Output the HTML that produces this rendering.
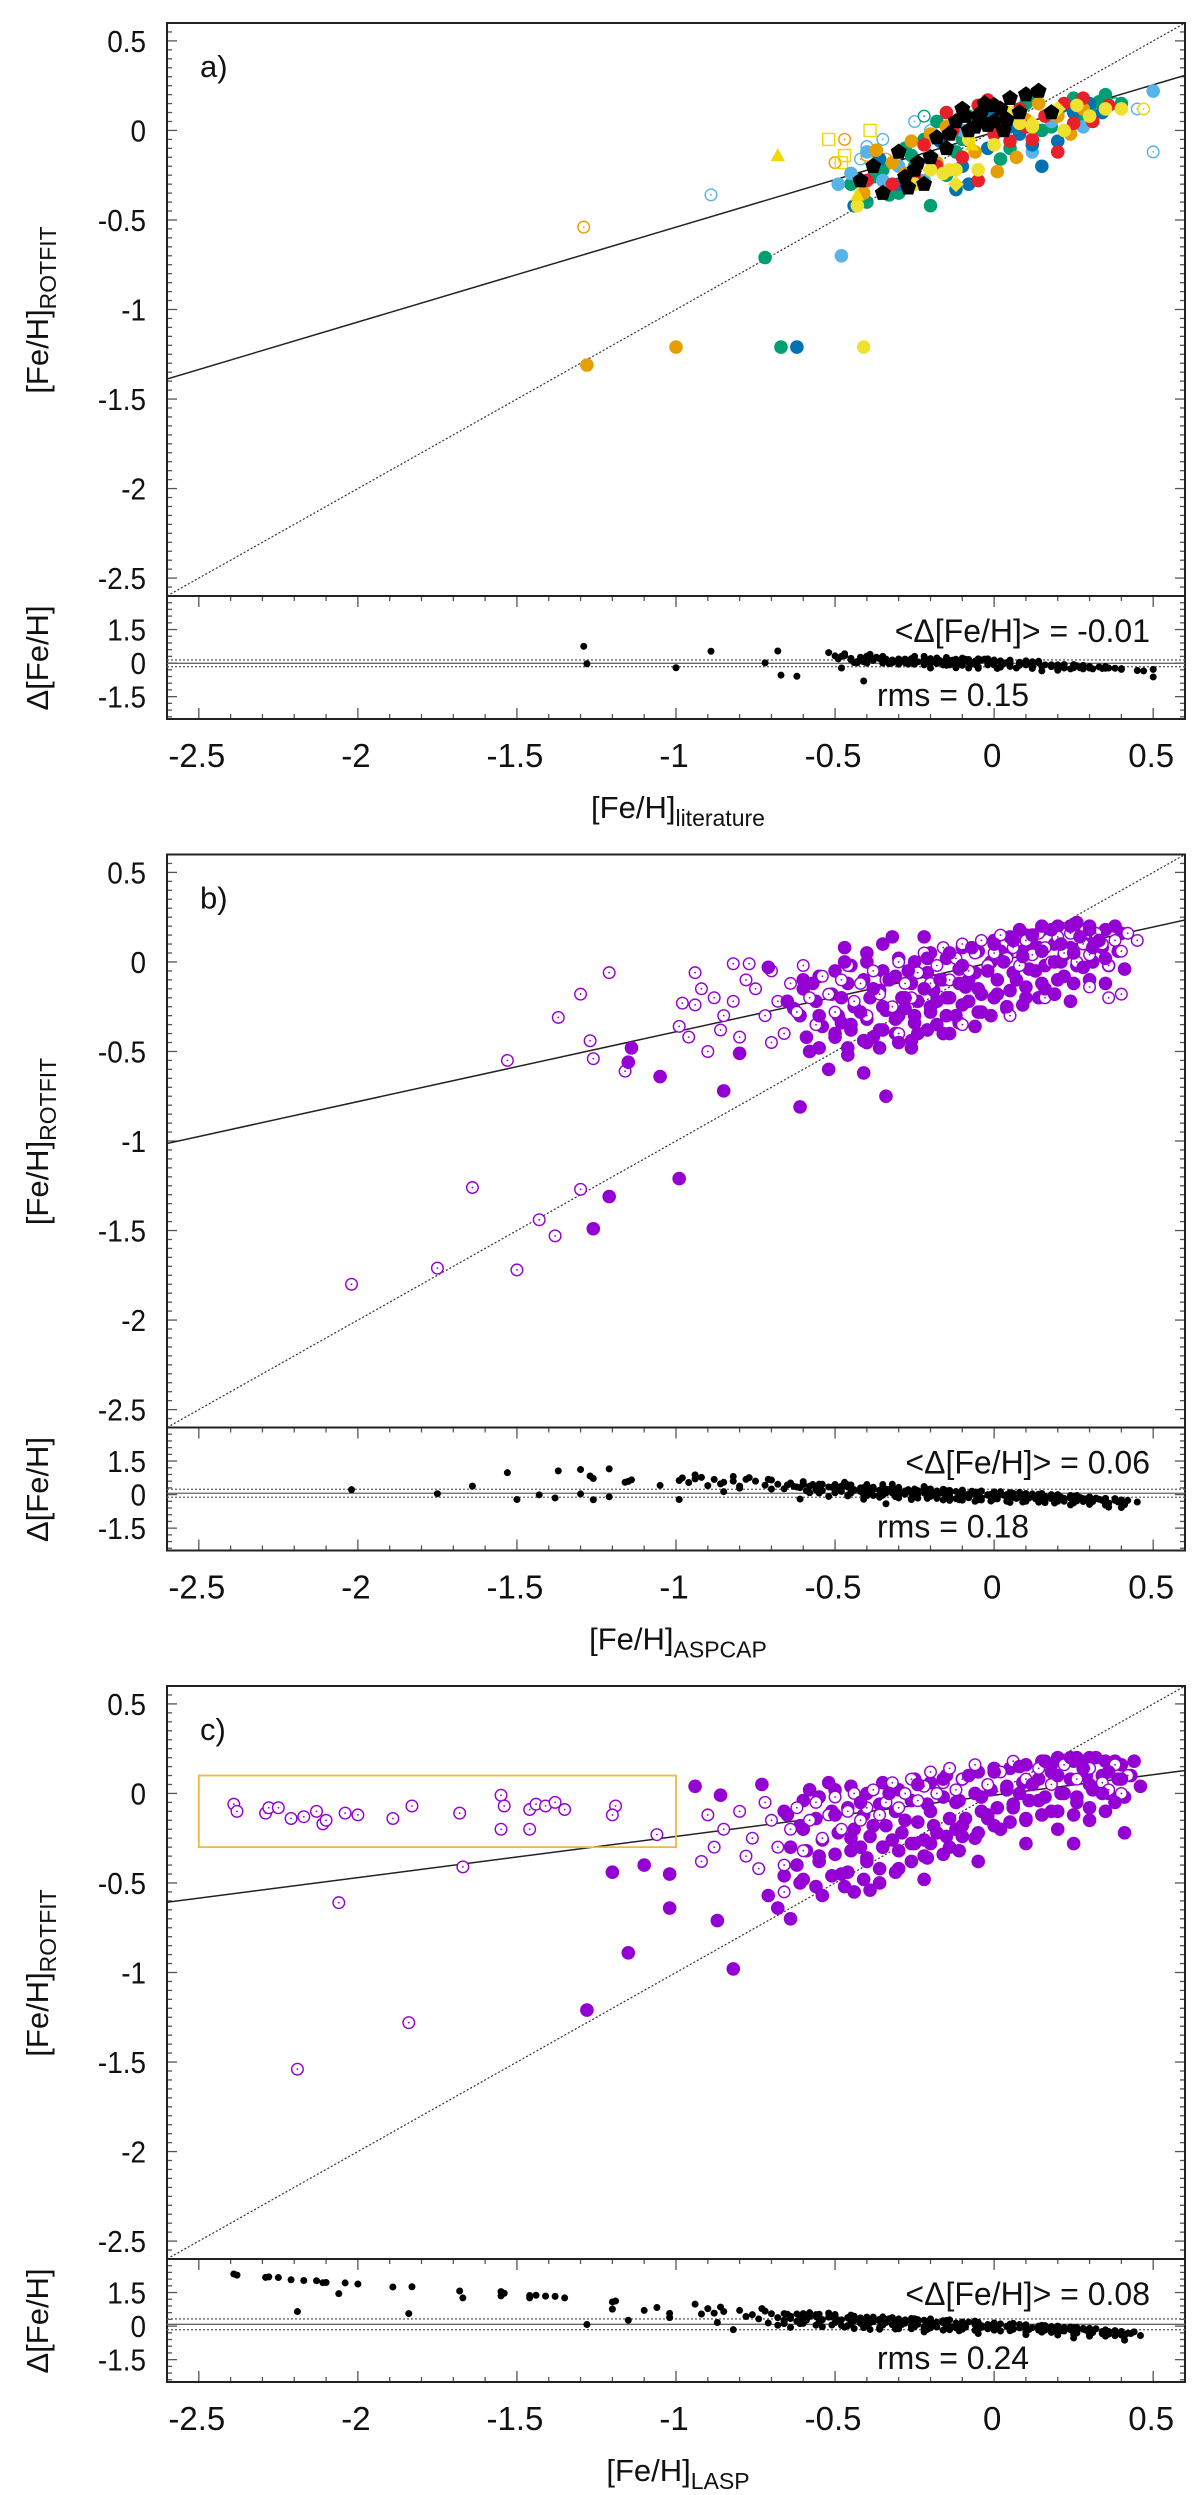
<!DOCTYPE html>
<html><head><meta charset="utf-8"><style>
html,body{margin:0;padding:0;background:#fff;}
svg{display:block;font-family:"Liberation Sans",Arial,sans-serif;}
</style></head><body>
<svg id="fig" width="1200" height="2495" viewBox="0 0 1200 2495" xmlns="http://www.w3.org/2000/svg"></svg>
<script>
// ---------- axis ticks ----------
const xTickVals=[-2.5,-2,-1.5,-1,-0.5,0,0.5];
const xTickLabels=["-2.5","-2","-1.5","-1","-0.5","0","0.5"];
const yTickVals=[0.5,0,-0.5,-1,-1.5,-2,-2.5];
const yTickLabels=["0.5","0","-0.5","-1","-1.5","-2","-2.5"];
const rTickVals=[1.5,0,-1.5];
const rTickLabels=["1.5","0","-1.5"];
// ---------- panel a data ----------
const aGreenX=[-0.72,-0.67,-0.40,-0.30,-0.25,-0.20,-0.15,-0.10,-0.05,0.0,0.05,0.10,0.15,0.20,0.25,0.30,0.35,0.40,-0.35,-0.28,-0.18,0.08,-0.22,-0.33,0.12,-0.45,-0.38,-0.12,0.02,0.18,0.27,0.33,-0.26,-0.08];
const aGreenY=[-0.71,-1.21,-0.40,-0.35,-0.20,-0.42,-0.25,-0.05,0.05,0.12,-0.10,0.15,0.00,0.10,0.18,0.12,0.20,0.15,-0.22,-0.10,0.05,0.00,-0.05,-0.36,0.18,-0.30,-0.26,-0.12,-0.16,0.02,0.06,0.16,-0.14,0.08];
const aRedX=[-0.22,-0.15,-0.10,-0.05,0.02,0.08,0.12,0.16,0.20,0.28,0.31,-0.05,-0.25,-0.40,0.00,0.22,-0.18,0.05,-0.32,-0.13,0.10,0.25,0.36,-0.02];
const aRedY=[-0.08,0.10,-0.15,0.14,0.05,0.12,-0.05,0.08,-0.12,0.18,0.05,-0.28,-0.25,-0.28,-0.02,0.15,-0.20,-0.06,-0.30,0.00,0.02,0.04,0.14,0.17];
const aBlueX=[-0.62,-0.44,-0.30,-0.20,-0.12,-0.02,0.05,0.12,0.20,0.25,0.30,-0.08,0.15,-0.10,-0.36,-0.17,0.00,0.22,0.34,0.08];
const aBlueY=[-1.21,-0.42,-0.30,-0.15,-0.33,-0.10,0.02,-0.08,-0.06,0.10,0.15,-0.30,-0.20,-0.20,-0.16,-0.06,0.08,0.14,0.10,-0.02];
const aSkyX=[-0.48,-0.49,-0.45,-0.40,-0.22,-0.10,0.05,0.18,0.50,-0.30,-0.35,0.12,0.28];
const aSkyY=[-0.70,-0.30,-0.24,-0.12,-0.28,0.00,0.08,0.05,0.22,-0.20,-0.28,-0.12,0.02];
const aOrangeX=[-1.28,-1.00,-0.41,-0.37,-0.32,-0.26,-0.18,0.01,0.07,0.20,0.28,-0.15,0.14,-0.20,-0.06,0.10,0.24,-0.28];
const aOrangeY=[-1.31,-1.21,-0.35,-0.11,-0.18,-0.06,-0.18,-0.23,-0.15,0.08,0.12,0.02,0.15,-0.02,-0.12,0.06,-0.02,-0.24];
const aYellowX=[-0.41,-0.43,-0.25,-0.12,-0.05,-0.08,0.00,0.05,0.12,0.18,0.22,0.30,0.35,-0.30,-0.16,-0.20,-0.14,0.26,0.40,0.08];
const aYellowY=[-1.21,-0.42,-0.30,-0.22,-0.22,-0.05,-0.08,0.10,0.02,0.10,0.00,0.08,0.12,-0.12,-0.24,-0.22,-0.22,0.14,0.12,0.04];
const aBlackX=[-0.35,-0.30,-0.27,-0.25,-0.22,-0.20,-0.18,-0.15,-0.12,-0.10,-0.08,-0.05,-0.03,0.00,0.02,0.05,0.08,0.10,0.14,0.18,-0.42,-0.38,0.03,-0.02,-0.04,-0.06,0.00,0.04,-0.09,-0.14,-0.24,-0.28];
const aBlackY=[-0.35,-0.12,-0.32,-0.22,-0.30,-0.15,-0.04,-0.10,0.05,0.12,0.00,0.08,0.15,0.05,0.12,0.18,0.10,0.20,0.22,0.10,-0.28,-0.20,0.00,0.03,0.10,0.02,0.14,0.06,0.08,-0.02,-0.18,-0.26];
const aOpenSkyX=[-0.89,-0.40,-0.35,-0.25,0.45,0.50,-0.42,-0.20];
const aOpenSkyY=[-0.36,-0.09,-0.05,0.05,0.12,-0.12,-0.16,0.00];
const aOpenOrangeX=[-1.29,-0.47,-0.50,-0.40,-0.34];
const aOpenOrangeY=[-0.54,-0.05,-0.18,-0.14,-0.16];
const aOpenGreenX=[-0.22,0.38,0.10];
const aOpenGreenY=[0.08,0.15,0.05];
const aOpenYellowX=[0.47];
const aOpenYellowY=[0.12];
const aTriX=[-0.68,-0.43,-0.07];
const aTriY=[-0.14,-0.36,-0.08];
const aSquareX=[-0.52,-0.39,-0.47,-0.48];
const aSquareY=[-0.05,0.00,-0.14,-0.18];
const aDiamondX=[0.12,0.20,-0.12];
const aDiamondY=[0.04,0.12,-0.30];
// ---------- panel b data ----------
const bFillX=[-1.14,-1.15,-1.05,-0.85,-0.61,-0.34,-0.41,-0.80,-0.99,-1.21,-1.26,-0.32,-0.22,-0.47,-0.71,
-0.55,-0.50,-0.48,-0.45,-0.42,-0.40,-0.38,-0.36,-0.35,-0.33,-0.31,-0.30,-0.28,-0.27,-0.25,-0.24,-0.22,-0.21,-0.20,-0.18,-0.17,-0.15,-0.14,-0.12,-0.11,-0.10,-0.08,-0.07,-0.05,-0.04,-0.02,0.00,0.01,0.03,0.04,0.06,0.07,0.09,0.10,0.12,0.13,0.15,0.16,0.18,0.19,0.21,0.22,0.24,0.25,0.27,0.28,0.30,0.31,0.33,0.35,0.24,0.19,-0.60,-0.65,-0.58,-0.46,-0.52,-0.26,-0.14,-0.47,-0.40,-0.35,0.26,0.15,0.08];
const bFillY=[-0.48,-0.56,-0.64,-0.72,-0.81,-0.75,-0.62,-0.51,-1.21,-1.31,-1.49,0.14,0.14,0.08,-0.03,
-0.30,-0.42,-0.20,-0.35,-0.28,-0.45,-0.15,-0.38,-0.25,-0.10,-0.32,-0.45,-0.20,-0.05,-0.30,-0.40,-0.15,0.02,-0.25,-0.35,-0.10,-0.20,0.05,-0.30,-0.12,-0.02,-0.22,0.08,-0.15,-0.28,-0.05,0.10,-0.18,0.00,-0.25,0.12,-0.10,0.03,-0.20,0.15,-0.05,0.06,-0.15,0.18,0.00,0.10,-0.08,0.20,0.05,0.14,-0.03,0.18,0.08,0.12,0.02,-0.22,-0.18,-0.10,-0.22,-0.50,-0.52,-0.60,-0.48,-0.40,0.00,0.05,0.10,0.22,0.20,0.18];
const bDenseX=[-0.60,-0.61,-0.59,-0.55,-0.56,-0.54,-0.55,-0.50,-0.51,-0.49,-0.50,-0.45,-0.46,-0.44,-0.45,-0.46,-0.40,-0.41,-0.39,-0.40,-0.41,-0.35,-0.36,-0.34,-0.35,-0.36,-0.30,-0.31,-0.29,-0.30,-0.31,-0.25,-0.26,-0.24,-0.25,-0.26,-0.20,-0.21,-0.19,-0.20,-0.21,-0.15,-0.16,-0.14,-0.15,-0.16,-0.10,-0.11,-0.09,-0.10,-0.11,-0.05,-0.06,-0.04,-0.05,-0.06,0.00,-0.01,0.01,0.00,-0.01,0.05,0.04,0.06,0.05,0.04,0.10,0.09,0.11,0.10,0.09,0.15,0.14,0.16,0.15,0.14,0.20,0.19,0.21,0.20,0.19,0.25,0.24,0.26,0.25,0.30,0.29,0.31,0.30,0.35,0.34,0.36,0.35,0.40,0.39,0.41,-0.63,-0.57,-0.48,-0.38,-0.28,-0.18,-0.08,0.02,0.12,0.22,0.32,0.38];
const bDenseY=[-0.15,-0.30,-0.42,-0.08,-0.22,-0.36,-0.48,-0.05,-0.18,-0.30,-0.40,-0.02,-0.12,-0.25,-0.38,-0.48,0.00,-0.10,-0.20,-0.32,-0.44,-0.05,-0.16,-0.27,-0.38,-0.48,0.02,-0.08,-0.20,-0.30,-0.40,0.00,-0.12,-0.22,-0.34,-0.44,0.05,-0.06,-0.16,-0.28,-0.38,0.02,-0.10,-0.20,-0.30,-0.40,0.08,-0.04,-0.14,-0.24,-0.34,0.06,-0.06,-0.18,-0.28,-0.36,0.12,0.00,-0.10,-0.20,-0.30,0.14,0.04,-0.06,-0.16,-0.26,0.15,0.06,-0.04,-0.14,-0.24,0.18,0.08,-0.02,-0.12,-0.20,0.20,0.10,0.00,-0.10,-0.18,0.18,0.08,-0.02,-0.12,0.20,0.10,0.00,-0.10,0.18,0.08,-0.02,-0.12,0.16,0.06,-0.04,-0.26,-0.12,-0.34,-0.42,-0.26,-0.22,-0.10,0.06,0.10,0.04,0.14,0.20];
const bOpenX=[-1.21,-1.30,-1.37,-1.27,-1.53,-1.26,-1.16,-0.94,-0.82,-0.77,-0.98,-0.94,-0.99,-0.96,-0.88,-0.82,-1.64,-1.30,-1.43,-1.38,-1.75,-1.50,-2.02,
-0.75,-0.72,-0.70,-0.68,-0.66,-0.64,-0.62,-0.60,-0.58,-0.56,-0.54,-0.52,-0.50,-0.48,-0.46,-0.44,-0.42,-0.40,-0.38,-0.36,-0.34,-0.32,-0.30,-0.28,-0.26,-0.24,-0.22,-0.20,-0.18,-0.16,-0.14,-0.12,-0.10,-0.08,-0.06,-0.04,-0.02,0.00,0.02,0.04,0.06,0.08,0.10,0.12,0.14,0.16,0.18,0.20,0.22,0.24,0.26,0.28,0.30,0.32,0.34,0.36,0.38,0.40,0.42,0.45,0.36,0.40,0.30,0.16,0.05,-0.10,-0.30,-0.85,-0.92,-0.80,-0.78,-0.70,-0.90,-0.86];
const bOpenY=[-0.06,-0.18,-0.31,-0.44,-0.55,-0.54,-0.61,-0.06,-0.01,-0.01,-0.23,-0.24,-0.36,-0.42,-0.20,-0.22,-1.26,-1.27,-1.44,-1.53,-1.71,-1.72,-1.80,
-0.15,-0.30,-0.05,-0.22,-0.40,-0.12,-0.28,-0.02,-0.20,-0.35,-0.08,-0.18,-0.28,-0.10,-0.02,-0.22,-0.12,-0.30,-0.05,-0.18,-0.10,-0.25,0.00,-0.12,-0.20,-0.06,0.05,-0.12,-0.02,0.08,-0.10,0.02,0.10,-0.05,0.05,0.12,-0.02,0.05,0.15,0.02,0.08,-0.02,0.12,0.04,0.16,0.08,0.00,0.14,0.05,0.16,0.00,0.10,0.04,0.16,0.10,-0.02,0.12,0.06,0.16,0.12,-0.20,-0.18,-0.14,-0.20,-0.30,-0.35,-0.40,-0.30,-0.15,-0.42,-0.10,-0.45,-0.50,-0.38];
// ---------- panel c data ----------
const cFillX=[-1.28,-1.15,-1.02,-0.87,-0.82,-1.20,-1.10,-1.02,-0.94,-0.86,-0.73,-0.68,-0.64,-0.71,-0.61,-0.54,-0.47,-0.39,-0.22,0.25,0.41,0.46,0.44,
-0.60,-0.55,-0.50,-0.48,-0.45,-0.42,-0.40,-0.38,-0.35,-0.33,-0.30,-0.28,-0.26,-0.24,-0.22,-0.20,-0.18,-0.16,-0.14,-0.12,-0.10,-0.08,-0.06,-0.04,-0.02,0.00,0.02,0.04,0.06,0.08,0.10,0.12,0.14,0.16,0.18,0.20,0.22,0.24,0.26,0.28,0.30,0.32,0.34,0.36,0.38,0.40,0.30,0.20,0.10,-0.05,-0.58,-0.52,-0.66,-0.62,-0.44,-0.36,0.26,0.18];
const cFillY=[-1.21,-0.89,-0.64,-0.71,-0.98,-0.44,-0.40,-0.45,0.04,-0.01,0.05,-0.64,-0.70,-0.57,-0.50,-0.57,-0.52,-0.54,-0.48,-0.28,-0.22,0.04,0.18,
-0.20,-0.35,-0.12,-0.45,-0.25,-0.05,-0.38,-0.18,-0.30,0.00,-0.42,-0.15,-0.28,0.05,-0.35,-0.10,-0.22,0.08,-0.30,-0.05,-0.18,0.10,-0.25,-0.02,-0.12,0.12,-0.20,0.02,-0.08,0.15,-0.15,0.05,-0.04,0.18,-0.10,0.10,0.00,0.20,-0.05,0.14,0.05,0.20,0.00,0.12,-0.05,0.08,-0.15,-0.20,-0.28,-0.38,0.02,0.06,-0.10,-0.40,-0.55,-0.50,0.20,0.16];
const cDenseX=[-0.65,-0.64,-0.66,-0.60,-0.61,-0.59,-0.60,-0.55,-0.56,-0.54,-0.55,-0.56,-0.50,-0.51,-0.49,-0.50,-0.51,-0.45,-0.46,-0.44,-0.45,-0.46,-0.40,-0.41,-0.39,-0.40,-0.41,-0.35,-0.36,-0.34,-0.35,-0.36,-0.30,-0.31,-0.29,-0.30,-0.31,-0.25,-0.26,-0.24,-0.25,-0.26,-0.20,-0.21,-0.19,-0.20,-0.21,-0.15,-0.16,-0.14,-0.15,-0.16,-0.10,-0.11,-0.09,-0.10,-0.11,-0.05,-0.06,-0.04,-0.05,0.00,-0.01,0.01,0.00,0.05,0.04,0.06,0.05,0.10,0.09,0.11,0.10,0.15,0.14,0.16,0.15,0.20,0.19,0.21,0.20,0.25,0.24,0.26,0.25,0.30,0.29,0.31,0.30,0.35,0.34,0.36,0.35,0.40,0.39,0.41,-0.42,-0.32,-0.22,-0.12,-0.02,0.08,0.18,0.28,0.38,0.43];
const cDenseY=[-0.12,-0.30,-0.46,-0.04,-0.18,-0.32,-0.48,-0.02,-0.14,-0.26,-0.38,-0.52,0.02,-0.10,-0.22,-0.34,-0.46,0.04,-0.08,-0.20,-0.32,-0.44,0.00,-0.12,-0.24,-0.36,-0.48,0.06,-0.06,-0.18,-0.30,-0.42,0.02,-0.10,-0.22,-0.32,-0.44,0.08,-0.04,-0.16,-0.28,-0.38,0.06,-0.06,-0.18,-0.28,-0.36,0.10,-0.02,-0.14,-0.24,-0.34,0.08,-0.04,-0.14,-0.24,-0.32,0.12,0.00,-0.10,-0.22,0.14,0.02,-0.08,-0.18,0.14,0.04,-0.06,-0.16,0.16,0.06,-0.04,-0.14,0.18,0.08,-0.02,-0.12,0.20,0.10,0.00,-0.10,0.18,0.08,-0.02,-0.12,0.20,0.10,0.02,-0.08,0.18,0.10,0.00,-0.10,0.16,0.08,-0.02,-0.30,-0.26,-0.26,-0.20,-0.14,0.00,0.12,0.18,0.18,0.10];
const cOpenX=[-2.39,-2.38,-2.29,-2.28,-2.25,-2.21,-2.17,-2.13,-2.11,-2.10,-2.04,-2.00,-1.89,-1.83,-1.68,-1.55,-1.54,-1.55,-1.46,-1.46,-1.44,-1.41,-1.38,-1.35,-1.19,-1.20,-1.06,-1.67,-2.06,-1.84,-2.19,
-0.85,-0.80,-0.76,-0.72,-0.70,-0.68,-0.66,-0.64,-0.62,-0.60,-0.58,-0.56,-0.54,-0.52,-0.50,-0.48,-0.46,-0.44,-0.42,-0.40,-0.38,-0.36,-0.34,-0.32,-0.30,-0.28,-0.26,-0.24,-0.22,-0.20,-0.18,-0.16,-0.14,-0.12,-0.10,-0.06,-0.02,0.02,0.06,0.10,0.14,0.18,0.22,0.26,0.30,0.34,0.38,0.42,0.36,0.40,-0.90,-0.88,-0.92,-0.78,-0.74,-0.66];
const cOpenY=[-0.06,-0.10,-0.11,-0.08,-0.08,-0.14,-0.13,-0.10,-0.17,-0.15,-0.11,-0.12,-0.14,-0.07,-0.11,-0.01,-0.07,-0.20,-0.09,-0.20,-0.06,-0.07,-0.05,-0.09,-0.07,-0.12,-0.23,-0.41,-0.61,-1.28,-1.54,
-0.20,-0.10,-0.25,-0.05,-0.15,-0.30,-0.40,-0.20,-0.08,-0.32,-0.15,-0.05,-0.25,-0.12,-0.02,-0.20,-0.10,0.00,-0.15,-0.08,0.02,-0.12,-0.05,0.06,-0.08,0.00,0.08,-0.04,0.04,0.12,0.00,0.06,0.14,0.02,0.08,0.16,0.05,0.12,0.18,0.08,0.14,0.05,0.16,0.08,0.14,0.06,0.16,0.10,0.02,0.00,-0.12,-0.30,-0.38,-0.35,-0.42,-0.55];
// ---------- fits & stats ----------
const fitSlope=[0.53,0.39,0.23];
const fitIntercept=[-0.01,0.00,-0.01];
const meanDiff=[-0.01,0.06,0.08];
const rmsDiff=[0.15,0.18,0.24];
const panelLetters=["a)","b)","c)"];
const xAxisSubs=["literature","ASPCAP","LASP"];
const meanLabels=["-0.01","0.06","0.08"];
const rmsLabels=["0.15","0.18","0.24"];
const boxC={x0:-2.5,x1:-1.0,y0:0.1,y1:-0.3};

const NS="http://www.w3.org/2000/svg";
const svg=document.getElementById('fig');
const L=167,R=1185,TOP=23,MB=596,RB=719;
const XMIN=-2.6,XMAX=0.6,YMIN=-2.6,YMAX=0.6,RMIN=-2.5,RMAX=3;
const OFFS=[0,831.5,1663];
function sx(v){return L+(v-XMIN)/(XMAX-XMIN)*(R-L);}
function sy(v,o){return o+TOP+(YMAX-v)/(YMAX-YMIN)*(MB-TOP);}
function sr(v,o){return o+MB+(RMAX-v)/(RMAX-RMIN)*(RB-MB);}
function mk(tag,attrs,parent){const e=document.createElementNS(NS,tag);for(const k in attrs)e.setAttribute(k,attrs[k]);(parent||svg).appendChild(e);return e;}

const defs=mk('defs',{});
OFFS.forEach((o,i)=>{
  const cp=mk('clipPath',{id:'clipM'+i},defs);mk('rect',{x:L,y:o+TOP,width:R-L,height:MB-TOP},cp);
  const cr=mk('clipPath',{id:'clipR'+i},defs);mk('rect',{x:L,y:o+MB,width:R-L,height:RB-MB},cr);
});

function circle(g,x,y,color,open,r){
  r=r||6.8;
  if(open){
    const c=mk('circle',{cx:x,cy:y,r:r-1,fill:'#fff',stroke:color,'stroke-width':1.4},g);
    
    
    mk('circle',{cx:x,cy:y,r:0.9,fill:color},g);
  }else{
    const c=mk('circle',{cx:x,cy:y,r:r,fill:color},g);
    
    
  }
}
function poly(g,pts,color,fill,name){
  const p=mk('polygon',{points:pts.map(q=>q.join(',')).join(' '),fill:fill?color:'none',stroke:color,'stroke-width':1.4},g);
  
  
}
function series(i,xs,ys,color,kind){
  const o=OFFS[i];
  const g=mk('g',{'clip-path':'url(#clipM'+i+')'});
  
  
  xs.forEach((xv,k)=>{
    const x=sx(xv),y=sy(ys[k],o);
    if(kind==='fill')circle(g,x,y,color,false);
    else if(kind==='open')circle(g,x,y,color,true);
    else if(kind==='tri')poly(g,[[x,y-6],[x-6,y+5],[x+6,y+5]],color,true,'triangle-point');
    else if(kind==='square')poly(g,[[x-6,y-6],[x+6,y-6],[x+6,y+6],[x-6,y+6]],color,false,'square-point');
    else if(kind==='diamond')poly(g,[[x,y-7],[x+7,y],[x,y+7],[x-7,y]],color,true,'diamond-point');
    else if(kind==='pent'){const pts=[];for(let a=0;a<5;a++){const t=-Math.PI/2+a*2*Math.PI/5;pts.push([x+7.5*Math.cos(t),y+7.5*Math.sin(t)]);}poly(g,pts,color,true,'pentagon-point');}
  });
}

function frame(i){
  const o=OFFS[i];
  const g=mk('g',{});
  
  
  for(let k=0;k<=64;k++){const v=+(YMIN+k*0.05).toFixed(2);const y=sy(v,o);const maj=Math.abs(v*2-Math.round(v*2))<1e-6;const len=maj?10:5;
    mk('line',{x1:L,y1:y,x2:L+len,y2:y,stroke:'#555','stroke-width':1.3},g);mk('line',{x1:R,y1:y,x2:R-len,y2:y,stroke:'#555','stroke-width':1.3},g);}
  for(let k=-8;k<=10;k++){const v=k*0.3;if(v<RMIN||v>RMAX)continue;const y=sr(v,o);const maj=k%5===0;const len=maj?10:5;
    mk('line',{x1:L,y1:y,x2:L+len,y2:y,stroke:'#555','stroke-width':1.3},g);mk('line',{x1:R,y1:y,x2:R-len,y2:y,stroke:'#555','stroke-width':1.3},g);}
  for(let k=0;k<=32;k++){const v=+(XMIN+k*0.1).toFixed(2);const x=sx(v);const maj=Math.abs(v*2-Math.round(v*2))<1e-6;const len=maj?11:5;
    mk('line',{x1:x,y1:o+MB,x2:x,y2:o+MB+len,stroke:'#555','stroke-width':1.3},g);mk('line',{x1:x,y1:o+RB,x2:x,y2:o+RB-len,stroke:'#555','stroke-width':1.3},g);}
  const fm=mk('rect',{x:L,y:o+TOP,width:R-L,height:MB-TOP,fill:'none',stroke:'#222','stroke-width':2},g);
  
  const fr=mk('rect',{x:L,y:o+MB,width:R-L,height:RB-MB,fill:'none',stroke:'#222','stroke-width':2},g);
  
  yTickVals.forEach((v,k)=>{const t=mk('text',{x:146,y:sy(v,o)+11,'font-size':31,'text-anchor':'end',fill:'#111',transform:'translate(146,0) scale(0.9,1) translate(-146,0)'},g);t.textContent=yTickLabels[k];
    });
  rTickVals.forEach((v,k)=>{const t=mk('text',{x:146,y:sr(v,o)+11,'font-size':31,'text-anchor':'end',fill:'#111',transform:'translate(146,0) scale(0.9,1) translate(-146,0)'},g);t.textContent=rTickLabels[k];
    });
  xTickVals.forEach((v,k)=>{const t=mk('text',{x:sx(v)-2,y:o+RB+48,'font-size':33,'text-anchor':'middle',fill:'#111'},g);t.textContent=xTickLabels[k];
    });
  const yl=mk('text',{x:0,y:0,'font-size':31,fill:'#111','text-anchor':'middle',transform:'translate(48,'+(o+310)+') rotate(-90)'},g);
  yl.innerHTML='[Fe/H]<tspan font-size="23" dy="8">ROTFIT</tspan>';
  
  const rl=mk('text',{x:0,y:0,'font-size':31,fill:'#111','text-anchor':'middle',transform:'translate(48,'+(o+658)+') rotate(-90)'},g);
  rl.textContent='Δ[Fe/H]';
  
  const xl=mk('text',{x:678,y:o+818,'font-size':31,fill:'#111','text-anchor':'middle'},g);
  xl.innerHTML='[Fe/H]<tspan font-size="23" dy="8">'+xAxisSubs[i]+'</tspan>';
  
  const pl=mk('text',{x:200,y:o+77,'font-size':31,fill:'#111'},g);pl.textContent=panelLetters[i];
  
  const mt=mk('text',{x:1150,y:o+642,'font-size':32,fill:'#111','text-anchor':'end'},g);mt.textContent='<Δ[Fe/H]> = '+meanLabels[i];
  
  const rt=mk('text',{x:877,y:o+706,'font-size':32,fill:'#111'},g);rt.textContent='rms = '+rmsLabels[i];
  
}
function lines(i){
  const o=OFFS[i];
  const g=mk('g',{'clip-path':'url(#clipM'+i+')'});
  const d=mk('line',{x1:sx(XMIN),y1:sy(XMIN,o),x2:sx(XMAX),y2:sy(XMAX,o),stroke:'#333','stroke-width':1.2,'stroke-dasharray':'2,2'},g);
  
  const f=mk('line',{x1:sx(XMIN),y1:sy(fitIntercept[i]+fitSlope[i]*XMIN,o),x2:sx(XMAX),y2:sy(fitIntercept[i]+fitSlope[i]*XMAX,o),stroke:'#222','stroke-width':1.5},g);
  
}
function residual(i,allX,allY){
  const o=OFFS[i];
  const g=mk('g',{'clip-path':'url(#clipR'+i+')'});
  
  [[meanDiff[i],'none'],[meanDiff[i]+rmsDiff[i],'2,2'],[meanDiff[i]-rmsDiff[i],'2,2']].forEach(([v,da])=>{
    const l=mk('line',{x1:L,y1:sr(v,o),x2:R,y2:sr(v,o),stroke:'#666','stroke-width':1.3,'stroke-dasharray':da},g);
    
  });
  allX.forEach((xv,k)=>{const c=mk('circle',{cx:sx(xv),cy:sr(allY[k]-xv,o),r:3.5,fill:'#000'},g);
    });
}

[0,1,2].forEach(frame);
[0,1,2].forEach(lines);
const purple='#9400d3';
series(0,aOpenSkyX,aOpenSkyY,'#56b4e9','open');
series(0,aOpenOrangeX,aOpenOrangeY,'#e69f00','open');
series(0,aOpenGreenX,aOpenGreenY,'#009e73','open');
series(0,aOpenYellowX,aOpenYellowY,'#f0d800','open');
series(0,aSquareX,aSquareY,'#f0d800','square');
series(0,aGreenX,aGreenY,'#009e73','fill');
series(0,aSkyX,aSkyY,'#56b4e9','fill');
series(0,aBlueX,aBlueY,'#0072b2','fill');
series(0,aOrangeX,aOrangeY,'#e69f00','fill');
series(0,aRedX,aRedY,'#e8202a','fill');
series(0,aYellowX,aYellowY,'#f0e130','fill');
series(0,aTriX,aTriY,'#f0d800','tri');
series(0,aDiamondX,aDiamondY,'#f0e130','diamond');
series(0,aBlackX,aBlackY,'#000','pent');
const aAllX=[].concat(aGreenX,aRedX,aBlueX,aSkyX,aOrangeX,aYellowX,aBlackX,aOpenSkyX,aOpenOrangeX,aOpenGreenX,aOpenYellowX,aTriX,aSquareX,aDiamondX);
const aAllY=[].concat(aGreenY,aRedY,aBlueY,aSkyY,aOrangeY,aYellowY,aBlackY,aOpenSkyY,aOpenOrangeY,aOpenGreenY,aOpenYellowY,aTriY,aSquareY,aDiamondY);
residual(0,aAllX,aAllY);
series(1,bDenseX,bDenseY,purple,'fill');
series(1,bOpenX,bOpenY,purple,'open');
series(1,bFillX,bFillY,purple,'fill');
residual(1,bFillX.concat(bOpenX,bDenseX),bFillY.concat(bOpenY,bDenseY));
series(2,cDenseX,cDenseY,purple,'fill');
series(2,cOpenX,cOpenY,purple,'open');
series(2,cFillX,cFillY,purple,'fill');
const bx=mk('rect',{x:sx(boxC.x0),y:sy(boxC.y0,OFFS[2]),width:sx(boxC.x1)-sx(boxC.x0),height:sy(boxC.y1,OFFS[2])-sy(boxC.y0,OFFS[2]),fill:'none',stroke:'#f0b840','stroke-width':1.8});


residual(2,cFillX.concat(cOpenX,cDenseX),cFillY.concat(cOpenY,cDenseY));
</script>
</body></html>
